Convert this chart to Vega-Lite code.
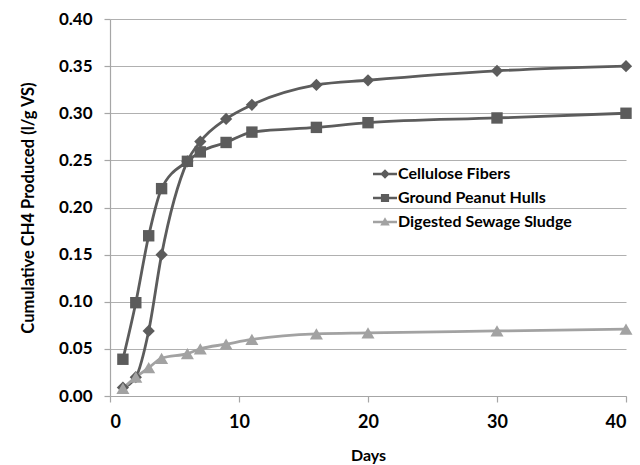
{
  "$schema": "https://vega.github.io/schema/vega-lite/v6.json",
  "width": 516,
  "height": 377,
  "autosize": "none",
  "padding": {"left": 110, "top": 19, "right": 14, "bottom": 69},
  "background": "white",
  "config": {"view": {"stroke": null}, "font": "Lato"},
  "data": {
    "values": [
      {"series": "Cellulose Fibers", "day": 1, "ch4": 0.009},
      {"series": "Cellulose Fibers", "day": 2, "ch4": 0.02},
      {"series": "Cellulose Fibers", "day": 3, "ch4": 0.069},
      {"series": "Cellulose Fibers", "day": 4, "ch4": 0.15},
      {"series": "Cellulose Fibers", "day": 6, "ch4": 0.249},
      {"series": "Cellulose Fibers", "day": 7, "ch4": 0.27},
      {"series": "Cellulose Fibers", "day": 9, "ch4": 0.294},
      {"series": "Cellulose Fibers", "day": 11, "ch4": 0.309},
      {"series": "Cellulose Fibers", "day": 16, "ch4": 0.33},
      {"series": "Cellulose Fibers", "day": 20, "ch4": 0.335},
      {"series": "Cellulose Fibers", "day": 30, "ch4": 0.345},
      {"series": "Cellulose Fibers", "day": 40, "ch4": 0.35},
      {"series": "Ground Peanut Hulls", "day": 1, "ch4": 0.039},
      {"series": "Ground Peanut Hulls", "day": 2, "ch4": 0.099},
      {"series": "Ground Peanut Hulls", "day": 3, "ch4": 0.17},
      {"series": "Ground Peanut Hulls", "day": 4, "ch4": 0.22},
      {"series": "Ground Peanut Hulls", "day": 6, "ch4": 0.249},
      {"series": "Ground Peanut Hulls", "day": 7, "ch4": 0.259},
      {"series": "Ground Peanut Hulls", "day": 9, "ch4": 0.269},
      {"series": "Ground Peanut Hulls", "day": 11, "ch4": 0.28},
      {"series": "Ground Peanut Hulls", "day": 16, "ch4": 0.285},
      {"series": "Ground Peanut Hulls", "day": 20, "ch4": 0.29},
      {"series": "Ground Peanut Hulls", "day": 30, "ch4": 0.295},
      {"series": "Ground Peanut Hulls", "day": 40, "ch4": 0.3},
      {"series": "Digested Sewage Sludge", "day": 1, "ch4": 0.008},
      {"series": "Digested Sewage Sludge", "day": 2, "ch4": 0.02},
      {"series": "Digested Sewage Sludge", "day": 3, "ch4": 0.03},
      {"series": "Digested Sewage Sludge", "day": 4, "ch4": 0.04},
      {"series": "Digested Sewage Sludge", "day": 6, "ch4": 0.045},
      {"series": "Digested Sewage Sludge", "day": 7, "ch4": 0.05},
      {"series": "Digested Sewage Sludge", "day": 9, "ch4": 0.055},
      {"series": "Digested Sewage Sludge", "day": 11, "ch4": 0.06},
      {"series": "Digested Sewage Sludge", "day": 16, "ch4": 0.066},
      {"series": "Digested Sewage Sludge", "day": 20, "ch4": 0.067},
      {"series": "Digested Sewage Sludge", "day": 30, "ch4": 0.069},
      {"series": "Digested Sewage Sludge", "day": 40, "ch4": 0.071}
    ]
  },
  "encoding": {
    "x": {
      "field": "day", "type": "quantitative",
      "scale": {"domain": [0, 40], "nice": false},
      "axis": {
        "title": "Days", "titleFont": "Lato", "titleFontSize": 16, "titleFontWeight": "bold", "titleColor": "black", "titlePadding": 16,
        "values": [0, 10, 20, 30, 40], "format": "d",
        "labelFont": "Lato", "labelFontSize": 18, "labelFontWeight": "bold", "labelColor": "black", "labelPadding": 11,
        "domainColor": "#a6a6a6", "domainWidth": 1.2, "tickColor": "#a6a6a6", "tickSize": 6, "tickWidth": 1.2,
        "grid": false
      }
    },
    "y": {
      "field": "ch4", "type": "quantitative",
      "scale": {"domain": [0, 0.4], "nice": false},
      "axis": {
        "title": "Cumulative CH4 Produced (l/g VS)", "titleFont": "Lato", "titleFontSize": 16.5, "titleFontWeight": "bold", "titleColor": "black", "titlePadding": 22,
        "values": [0, 0.05, 0.1, 0.15, 0.2, 0.25, 0.3, 0.35, 0.4], "format": ".2f",
        "labelFont": "Lato", "labelFontSize": 17, "labelFontWeight": "bold", "labelColor": "black", "labelPadding": 12,
        "domainColor": "#a6a6a6", "domainWidth": 1.2, "tickColor": "#a6a6a6", "tickSize": 6, "tickWidth": 1.2,
        "grid": true, "gridColor": "#b0b0b0", "gridWidth": 1.2
      }
    },
    "color": {
      "field": "series", "type": "nominal",
      "scale": {"domain": ["Cellulose Fibers", "Ground Peanut Hulls", "Digested Sewage Sludge"], "range": ["#5c5c5c", "#5c5c5c", "#a2a2a2"]},
      "legend": {
        "orient": "none", "legendX": 263, "legendY": 143, "title": null,
        "labelFont": "Lato", "labelFontSize": 16, "labelFontWeight": "bold", "labelColor": "black", "labelLimit": 0,
        "symbolSize": 576, "rowPadding": 4, "labelOffset": 1, "symbolStrokeWidth": 0
      }
    }
  },
  "layer": [
    {
      "mark": {"type": "line", "interpolate": "monotone", "strokeWidth": 2.8}
    },
    {
      "transform": [{"filter": "datum.series == 'Cellulose Fibers'"}],
      "mark": {"type": "point", "shape": "diamond", "filled": true, "opacity": 1, "size": 150}
    },
    {
      "transform": [{"filter": "datum.series == 'Ground Peanut Hulls'"}],
      "mark": {"type": "point", "shape": "square", "filled": true, "opacity": 1, "size": 130}
    },
    {
      "transform": [{"filter": "datum.series == 'Digested Sewage Sludge'"}],
      "mark": {"type": "point", "shape": "triangle-up", "filled": true, "opacity": 1, "size": 170}
    },
    {
      "mark": {"type": "point", "filled": true, "opacity": 1, "size": 0},
      "encoding": {
        "shape": {
          "field": "series", "type": "nominal",
          "scale": {
            "domain": ["Cellulose Fibers", "Ground Peanut Hulls", "Digested Sewage Sludge"],
            "range": [
              "M-1,-0.1H1V0.1H-1Z M0,-0.4L0.4,0L0,0.4L-0.4,0Z",
              "M-1,-0.1H1V0.1H-1Z M-0.34,-0.34H0.34V0.34H-0.34Z",
              "M-1,-0.1H1V0.1H-1Z M0,-0.4L0.4,0.3L-0.4,0.3Z"
            ]
          },
          "legend": {
            "orient": "none", "legendX": 263, "legendY": 143, "title": null,
            "labelFont": "Lato", "labelFontSize": 16, "labelFontWeight": "bold", "labelColor": "black", "labelLimit": 0,
            "symbolSize": 576, "rowPadding": 4, "labelOffset": 1, "symbolStrokeWidth": 0
          }
        }
      }
    }
  ]
}
